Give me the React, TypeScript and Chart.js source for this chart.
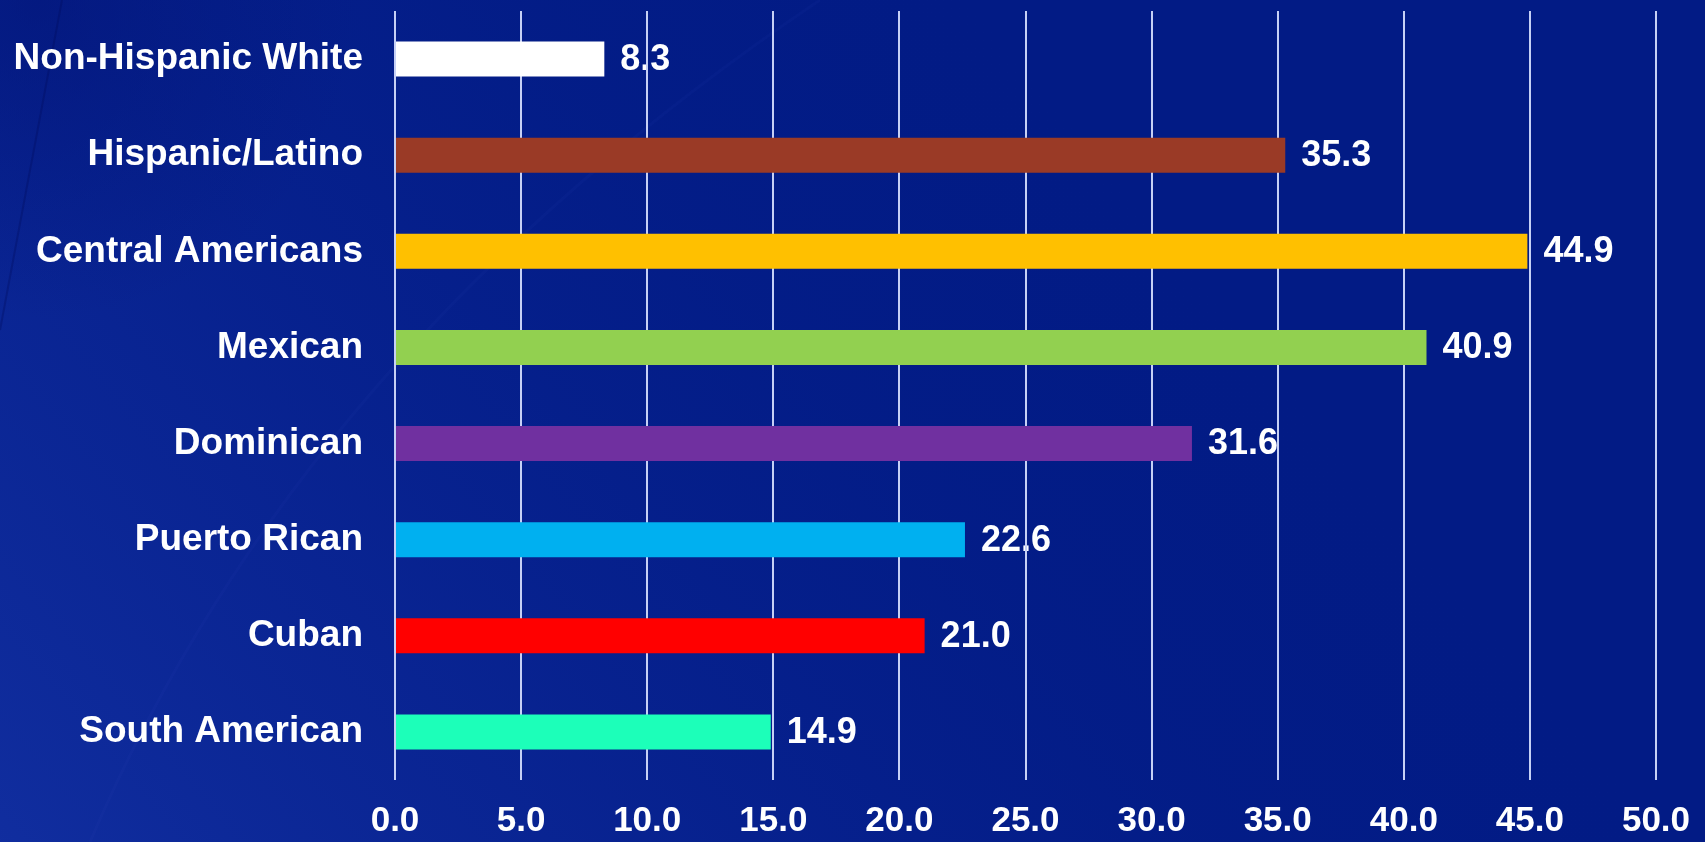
import React, { useEffect, useRef } from "react";
import { Chart, registerables } from "chart.js";

Chart.register(...registerables);

const categories = [
  "Non-Hispanic White",
  "Hispanic/Latino",
  "Central Americans",
  "Mexican",
  "Dominican",
  "Puerto Rican",
  "Cuban",
  "South American",
];
const values = [8.3, 35.3, 44.9, 40.9, 31.6, 22.6, 21.0, 14.9];
const barColors = [
  "#ffffff",
  "#9a3a26",
  "#ffc000",
  "#92d050",
  "#7030a0",
  "#00b0f0",
  "#ff0000",
  "#1cffb9",
];
const xMin = 0;
const xMax = 50;
const xStep = 5;

const FONT = "'Liberation Sans', Arial, sans-serif";

const backgroundPlugin = {
  id: "bgAndLabels",
  beforeDraw(chart: any) {
    const { ctx, width, height } = chart;
    ctx.save();
    ctx.fillStyle = "#021b85";
    ctx.fillRect(0, 0, width, height);
    const g = ctx.createLinearGradient(0, height, 1000, 0);
    g.addColorStop(0, "rgba(20,50,165,0.8)");
    g.addColorStop(0.35, "rgba(14,42,155,0.55)");
    g.addColorStop(0.7, "rgba(8,35,145,0.2)");
    g.addColorStop(1, "rgba(2,27,133,0)");
    ctx.fillStyle = g;
    ctx.fillRect(0, 0, width, height);
    const g2 = ctx.createRadialGradient(40, 0, 0, 40, 0, 320);
    g2.addColorStop(0, "rgba(2,20,120,0.6)");
    g2.addColorStop(1, "rgba(2,20,120,0)");
    ctx.fillStyle = g2;
    ctx.fillRect(0, 0, width, height);
    // faint diagonal streaks
    ctx.strokeStyle = "rgba(0,10,90,0.3)";
    ctx.lineWidth = 2;
    ctx.beginPath();
    ctx.moveTo(0, 330);
    ctx.lineTo(62, 0);
    ctx.stroke();
    ctx.strokeStyle = "rgba(60,90,200,0.06)";
    ctx.lineWidth = 3;
    ctx.beginPath();
    ctx.moveTo(90, 842);
    ctx.quadraticCurveTo(300, 350, 820, 0);
    ctx.stroke();

    // data labels (drawn under gridlines like the reference)
    const meta = chart.getDatasetMeta(0);
    ctx.fillStyle = "#ffffff";
    ctx.font = `bold 36px ${FONT}`;
    ctx.textAlign = "left";
    ctx.textBaseline = "middle";
    meta.data.forEach((bar: any, i: number) => {
      ctx.fillText(values[i].toFixed(1), bar.x + 16, bar.y + 1);
    });
    ctx.restore();
  },
};

export default function App() {
  const ref = useRef<HTMLCanvasElement | null>(null);
  useEffect(() => {
    document.body.style.margin = "0";
    const canvas = ref.current!;
    const chart = new Chart(canvas, {
      type: "bar",
      data: {
        labels: categories,
        datasets: [
          {
            data: values,
            backgroundColor: barColors,
            borderWidth: 0,
            barPercentage: 0.365,
            categoryPercentage: 1,
          },
        ],
      },
      options: {
        indexAxis: "y",
        animation: false,
        responsive: false,
        maintainAspectRatio: false,
        layout: { padding: { top: 11, right: 49, left: 0, bottom: 0 } },
        plugins: {
          legend: { display: false },
          tooltip: { enabled: false },
          title: { display: false },
        },
        scales: {
          x: {
            min: xMin,
            max: xMax,
            ticks: {
              stepSize: xStep,
              color: "#ffffff",
              font: { family: FONT, size: 35, weight: "bold" },
              padding: 20,
              maxRotation: 0,
              callback: (v: any) => Number(v).toFixed(1),
            },
            grid: { color: "#c6d0f5", lineWidth: 2, drawTicks: false },
            border: { display: false },
            afterFit: (scale: any) => {
              scale.height = 62;
              scale.paddingLeft = 0;
              scale.paddingRight = 0;
            },
          },
          y: {
            ticks: {
              color: "#ffffff",
              font: { family: FONT, size: 37, weight: "bold" },
              padding: 32,
            },
            grid: { display: false, drawTicks: false },
            border: { display: false },
            afterFit: (scale: any) => {
              scale.width = 395;
              scale.paddingTop = 0;
              scale.paddingBottom = 0;
            },
          },
        },
      },
      plugins: [backgroundPlugin],
    } as any);
    return () => chart.destroy();
  }, []);
  return (
    <div style={{ width: 1705, height: 842 }}>
      <canvas ref={ref} width={1705} height={842} style={{ display: "block" }} />
    </div>
  );
}
